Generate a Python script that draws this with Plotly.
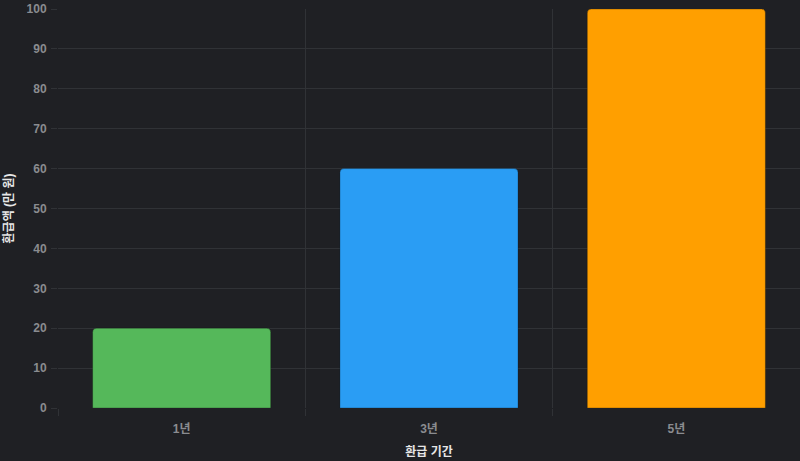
import plotly.graph_objects as go

# refund period vs refund amount
periods = ['1년', '3년', '5년']
amounts = [20, 60, 100]
bar_colors = ['#55b85a', '#2a9df4', '#ff9f00']
y_ticks = list(range(0, 101, 10))

bg = '#1f2024'
grid = '#303236'
fam = 'Liberation Sans, Noto Sans CJK KR'
tick_font = dict(family=fam, size=12, color='#8a8c90', weight='bold')
title_font = dict(family=fam, size=12, color='#e6e6e6', weight='bold')

xs = list(range(len(periods)))

fig = go.Figure(go.Bar(
    x=xs,
    y=amounts,
    marker=dict(color=bar_colors, line=dict(color='rgba(0,0,0,0.25)', width=1), cornerradius=4),
    width=0.72,
    hoverinfo='skip',
))

fig.update_layout(
    width=800, height=461,
    margin=dict(l=58, r=0, t=9, b=53),
    paper_bgcolor=bg,
    plot_bgcolor=bg,
    showlegend=False,
    xaxis=dict(
        range=[-0.5, len(periods) - 0.5],
        tickvals=xs,
        ticktext=periods,
        showgrid=False,
        zeroline=False,
        tickfont=tick_font,
        ticks='',
        ticklabelstandoff=12,
        title=dict(text='환급 기간', font=title_font, standoff=12),
        minor=dict(tickvals=[i - 0.5 for i in range(len(periods) + 1)],
                   showgrid=True, gridcolor=grid, gridwidth=1,
                   ticks='outside', ticklen=7, tickcolor=grid),
    ),
    yaxis=dict(
        range=[0, 100],
        tickvals=y_ticks,
        gridcolor=grid,
        gridwidth=1,
        zeroline=False,
        tickfont=tick_font,
        ticks='outside',
        ticklen=6,
        tickcolor=grid,
        ticklabeloverflow='allow',
        ticklabelstandoff=2,
        title=dict(text='환급액 (만 원)', font=title_font, standoff=10),
    ),
)

fig.write_html("out.html", config={'displayModeBar': False},
               post_script="document.body.style.margin='0';document.body.style.background='#1f2024';")
